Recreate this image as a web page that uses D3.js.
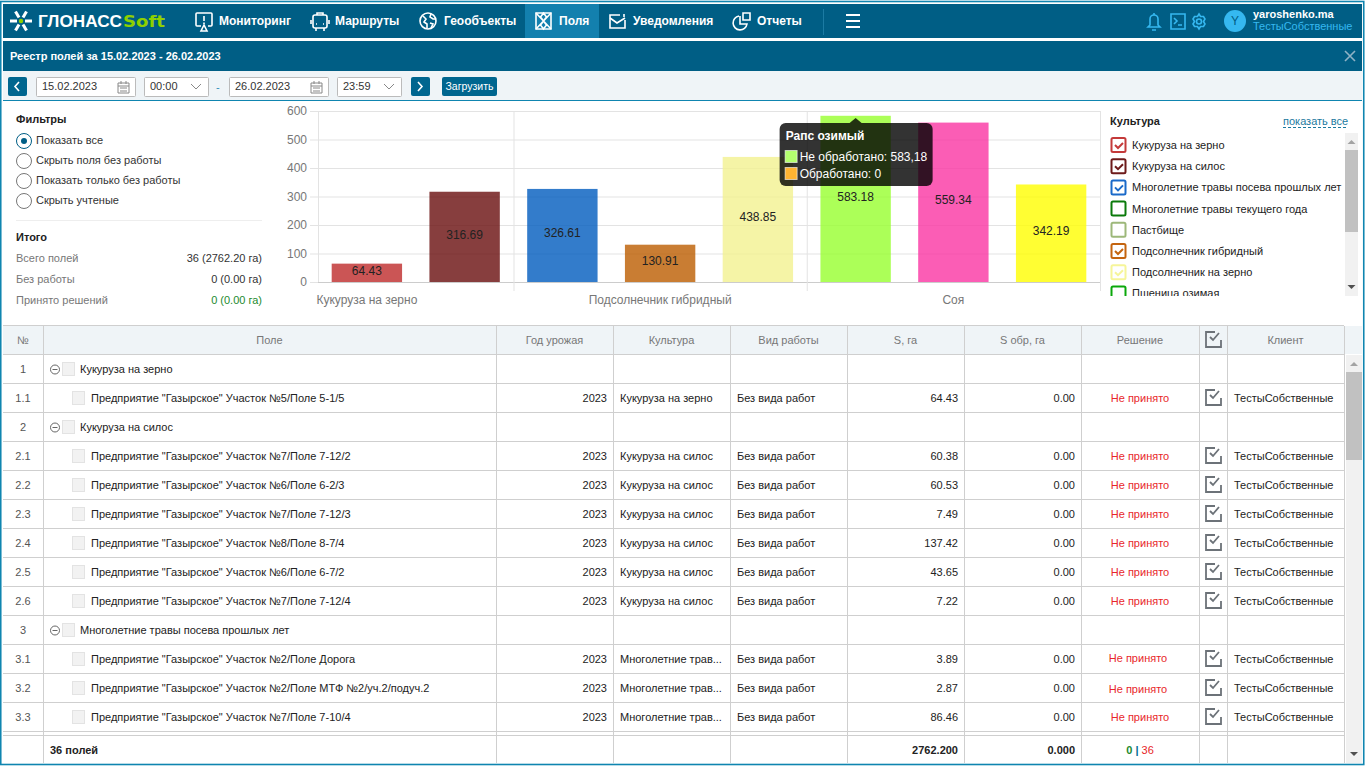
<!DOCTYPE html>
<html>
<head>
<meta charset="utf-8">
<title>Реестр полей</title>
<script src="https://cdn.jsdelivr.net/npm/d3@7"></script>
<style>
  html, body { margin: 0; padding: 0; background: #fff; overflow: hidden; }
  svg { display: block; font-family: "Liberation Sans", Arial, sans-serif; }
  text { font-size: 11px; }
</style>
</head>
<body>
<div id="app"></div>
<script>
// chart data
const barValues = [64.43, 316.69, 326.61, 130.91, 438.85, 583.18, 559.34, 342.19];
const barColors = ["#be2a2a", "#690e0e", "#005bbe", "#bb5c00", "#f3f190", "#97ff2e", "#fa34a2", "#fffe00"];
const groupLabels = ["Кукуруза на зерно", "Подсолнечник гибридный", "Соя"];
const groupSizes = [2, 3, 3];
const yTicks = [0, 100, 200, 300, 400, 500, 600];
const tooltipTitle = "Рапс озимый";
const tooltipBar = 5;

const legendNames = ["Кукуруза на зерно", "Кукуруза на силос", "Многолетние травы посева прошлых лет", "Многолетние травы текущего года", "Пастбище", "Подсолнечник гибридный", "Подсолнечник на зерно", "Пшеница озимая"];
const legendChecked = [true, true, true, false, false, true, true, false];
const legendColors = ["#c43a3a", "#6d1a1a", "#1a6ac9", "#0b7a0b", "#9db87a", "#c4640f", "#f6f59a", "#0aa80a"];

const filterNames = ["Показать все", "Скрыть поля без работы", "Показать только без работы", "Скрыть учтеные"];
const totalNames = ["Всего полей", "Без работы", "Принято решений"];
const totalValues = ["36 (2762.20 га)", "0 (0.00 га)", "0 (0.00 га)"];

const navNames = ["Мониторинг", "Маршруты", "Геообъекты", "Поля", "Уведомления", "Отчеты"];
const columnNames = ["№", "Поле", "Год урожая", "Культура", "Вид работы", "S, га", "S обр, га", "Решение", "", "Клиент"];

// культура пустая у строки группы
const rowNums = ["1", "1.1", "2", "2.1", "2.2", "2.3", "2.4", "2.5", "2.6", "3", "3.1", "3.2", "3.3"];
const rowFields = ["Кукуруза на зерно", 'Предприятие "Газырское" Участок №5/Поле 5-1/5', "Кукуруза на силос", 'Предприятие "Газырское" Участок №7/Поле 7-12/2', 'Предприятие "Газырское" Участок №6/Поле 6-2/3', 'Предприятие "Газырское" Участок №7/Поле 7-12/3', 'Предприятие "Газырское" Участок №8/Поле 8-7/4', 'Предприятие "Газырское" Участок №6/Поле 6-7/2', 'Предприятие "Газырское" Участок №7/Поле 7-12/4', "Многолетние травы посева прошлых лет", 'Предприятие "Газырское" Участок №2/Поле Дорога', 'Предприятие "Газырское" Участок №2/Поле МТФ №2/уч.2/подуч.2', 'Предприятие "Газырское" Участок №7/Поле 7-10/4'];
const rowCultures = ["", "Кукуруза на зерно", "", "Кукуруза на силос", "Кукуруза на силос", "Кукуруза на силос", "Кукуруза на силос", "Кукуруза на силос", "Кукуруза на силос", "", "Многолетние трав...", "Многолетние трав...", "Многолетние трав..."];
const rowAreas = [null, 64.43, null, 60.38, 60.53, 7.49, 137.42, 43.65, 7.22, null, 3.89, 2.87, 86.46];

const rows = rowNums.map(function(n, i) {
	return {num: n, field: rowFields[i], culture: rowCultures[i], area: rowAreas[i], group: rowAreas[i] === null};
});

const svg = d3.select("#app").append("svg")
	.attr("width", 1366)
	.attr("height", 768);

const frame = "#0f85b0";
const navBg = "#005e85";

function label(parent, x, y, str, opts) {
	opts = opts || {};
	return parent.append("text")
		.attr("x", x)
		.attr("y", y)
		.attr("text-anchor", opts.anchor || "start")
		.attr("fill", opts.fill || "#222")
		.attr("font-weight", opts.bold ? "bold" : "normal")
		.style("font-size", (opts.size || 11) + "px")
		.text(str);
}

drawShell();
drawNav();
drawToolbar();
drawFilters();
drawChart();
drawLegend();
drawTable();

function drawShell() {
	svg.append("rect").attr("width", 1366).attr("height", 768).attr("fill", "#fff");
	svg.append("rect").attr("x", 0.75).attr("y", 1.5).attr("width", 1363).attr("height", 763)
		.attr("fill", "none").attr("stroke", frame).attr("stroke-width", 1.6);
}

function strokeIcon(x, y, paths, color) {
	const g = svg.append("g")
		.attr("transform", "translate(" + x + "," + y + ")")
		.attr("fill", "none")
		.attr("stroke", color || "#fff")
		.attr("stroke-width", 1.6);
	g.selectAll("path").data(paths).enter().append("path").attr("d", function(d) { return d; });
	return g;
}

function drawNav() {
	svg.append("rect").attr("x", 3).attr("y", 4).attr("width", 1359).attr("height", 34).attr("fill", navBg);
	svg.append("rect").attr("x", 525).attr("y", 4).attr("width", 74).attr("height", 34).attr("fill", "#1380ae");

	// snowflake logo
	const flake = svg.append("g").attr("transform", "translate(21,21)").attr("stroke", "#fff").attr("stroke-width", 3);
	flake.selectAll("line").data([0, 60, 120, 180, 240, 300]).enter().append("line")
		.attr("x1", 0).attr("y1", -4).attr("x2", 0).attr("y2", -11)
		.attr("transform", function(d) { return "rotate(" + (d + 30) + ")"; });
	flake.append("circle").attr("r", 2.2).attr("fill", "#8fd000").attr("stroke", "none");
	label(svg, 38, 27, "ГЛОНАСС", {fill: "#fff", bold: true, size: 16})
		.attr("textLength", 84).attr("lengthAdjust", "spacingAndGlyphs");
	label(svg, 123, 27, "Soft", {fill: "#8fd000", bold: true, size: 16})
		.style("font-family", "'DejaVu Sans'")
		.attr("textLength", 42).attr("lengthAdjust", "spacingAndGlyphs");

	const navX = [219, 335, 444, 559, 633, 757];
	navNames.forEach(function(name, i) {
		label(svg, navX[i], 25, name, {fill: "#fff", bold: true, size: 12});
	});

	strokeIcon(195, 12, ["M2 1h14a1 1 0 0 1 1 1v11a1 1 0 0 1-1 1h-3M6 14H2a1 1 0 0 1-1-1V2a1 1 0 0 1 1-1", "M9 4v5M9 10.5v1.5", "M9 13l-3 6h6z"]);
	strokeIcon(311, 12, ["M4 3h10a2 2 0 0 1 2 2v9a2 2 0 0 1-2 2H4a2 2 0 0 1-2-2V5a2 2 0 0 1 2-2z", "M6 3V1h6v2M5 16v3M13 16v3M0 8v4M18 8v4", "M5 12h1M12 12h1"]);
	strokeIcon(419, 12, ["M9 1a8 8 0 1 0 0 16a8 8 0 1 0 0-16z", "M4 4l3 3l-2 3l3 2v4M12 2l-1 3l3 2l3 0M11 11l3 1l-2 4"]);
	strokeIcon(535, 12, ["M1 1h15v16H1z", "M1 1l15 16M16 1L1 17M8.5 1l3 4l-3 4l-3-4zM8.5 9l3 4l-3 4l-3-4z"]);
	strokeIcon(609, 13, ["M11 2H1v13h15V7", "M1 5l7 5l8-5", "M15 1v3"]);
	strokeIcon(733, 12, ["M6 4a7 7 0 1 0 8 8H7V4", "M10 1h7v7h-7z"]);

	svg.append("line").attr("x1", 823.5).attr("x2", 823.5).attr("y1", 9).attr("y2", 35).attr("stroke", "#1c7ba3");
	svg.selectAll(".burger").data([15, 21, 27]).enter().append("line")
		.attr("class", "burger")
		.attr("x1", 846).attr("x2", 860)
		.attr("y1", function(d) { return d; }).attr("y2", function(d) { return d; })
		.attr("stroke", "#fff").attr("stroke-width", 2);

	const bright = "#35b8f0";
	strokeIcon(1147, 12, ["M7 3a4 4 0 0 1 4 4v6l2 2H1l2-2V7a4 4 0 0 1 4-4z", "M5 18h4M7 1v2"], bright);
	strokeIcon(1170, 13, ["M1 1h14v15H1z", "M4 5l3 3l-3 3M8 12h4"], bright);
	const gear = strokeIcon(1191, 13, ["M8 1l1.5 2.5h3l1.5 2.5l-1.5 2.5l1.5 2.5l-1.5 2.5h-3L8 16l-1.5-2.5h-3L2 11l1.5-2.5L2 6l1.5-2.5h3z"], bright);
	gear.append("circle").attr("cx", 8).attr("cy", 8.5).attr("r", 2.5);

	svg.append("circle").attr("cx", 1235).attr("cy", 21).attr("r", 11).attr("fill", bright);
	label(svg, 1235, 25, "Y", {fill: navBg, anchor: "middle", size: 12});
	label(svg, 1253, 18, "yaroshenko.ma", {fill: "#fff", bold: true, size: 11});
	label(svg, 1253, 30, "ТестыСобственные", {fill: bright, size: 11});

	// шапка реестра
	svg.append("rect").attr("x", 3).attr("y", 41).attr("width", 1359).attr("height", 30).attr("fill", navBg);
	label(svg, 10, 60, "Реестр полей за 15.02.2023 - 26.02.2023", {fill: "#fff", bold: true, size: 11});
	strokeIcon(1345, 51, ["M0 0l10 10M10 0L0 10"], "#8fb3c6");
}

function drawToolbar() {
	svg.append("rect").attr("x", 3).attr("y", 71).attr("width", 1359).attr("height", 29).attr("fill", "#eff4f7");
	svg.append("rect").attr("x", 3).attr("y", 100).attr("width", 1359).attr("height", 1).attr("fill", frame);

	function navButton(x, path) {
		svg.append("rect").attr("x", x).attr("y", 77).attr("width", 19).attr("height", 19).attr("rx", 2).attr("fill", "#00668f");
		strokeIcon(x + 6, 82, [path]);
	}
	function input(x, w, str, arrow) {
		svg.append("rect").attr("x", x + 0.5).attr("y", 77.5).attr("width", w).attr("height", 19).attr("rx", 1)
			.attr("fill", "#fff").attr("stroke", "#bbb");
		label(svg, x + 6, 90, str, {fill: "#333", size: 11});
		if (arrow) {
			strokeIcon(x + w - 17, 84, ["M0 0l5 5l5-5"], "#888").attr("stroke-width", 1);
		} else {
			strokeIcon(x + w - 17, 81, ["M0 2h11v10H0z", "M0 5h11M3 0v3M8 0v3M2 7h7M2 10h7"], "#888").attr("stroke-width", 1);
		}
	}
	navButton(8, "M5 0L1 4.5L5 9");
	input(36, 99, "15.02.2023");
	input(144, 64, "00:00", true);
	label(svg, 216, 91, "-", {fill: "#2d8fbb"});
	input(229, 99, "26.02.2023");
	input(337, 64, "23:59", true);
	navButton(411, "M1 0l4 4.5L1 9");

	svg.append("rect").attr("x", 442).attr("y", 77).attr("width", 55).attr("height", 19).attr("rx", 2).attr("fill", "#00668f");
	label(svg, 469.5, 90, "Загрузить", {fill: "#fff", anchor: "middle", size: 10.5});
}

function drawFilters() {
	label(svg, 16, 123, "Фильтры", {bold: true, fill: "#222"});

	const items = svg.append("g").selectAll("g")
		.data(filterNames)
		.enter()
		.append("g")
		.attr("transform", function(d, i) { return "translate(0," + (141 + i * 20) + ")"; });
	items.append("circle")
		.attr("cx", 24).attr("r", 7.5).attr("fill", "#fff")
		.attr("stroke", function(d, i) { return i === 0 ? navBg : "#777"; });
	items.filter(function(d, i) { return i === 0; }).append("circle").attr("cx", 24).attr("r", 3).attr("fill", navBg);
	items.append("text")
		.attr("x", 36).attr("y", 3).attr("fill", "#333")
		.text(function(d) { return d; });

	svg.append("line").attr("x1", 16).attr("x2", 262).attr("y1", 220.5).attr("y2", 220.5).attr("stroke", "#eee");
	label(svg, 16, 241, "Итого", {bold: true, fill: "#222"});

	totalNames.forEach(function(name, i) {
		const y = 262 + i * 21;
		label(svg, 16, y, name, {fill: "#777"});
		label(svg, 262, y, totalValues[i], {anchor: "end", fill: i === 2 ? "#1d8a2e" : "#333"});
	});
}

function drawChart() {
	const x = d3.scaleBand()
		.domain(d3.range(barValues.length))
		.range([318, 1100])
		.paddingInner(0.28)
		.paddingOuter(0.14);
	const y = d3.scaleLinear()
		.domain([0, 600])
		.range([282, 111]);

	const chart = svg.append("g").attr("class", "chart");

	const axis = chart.append("g")
		.attr("transform", "translate(318,0)")
		.call(d3.axisLeft(y).tickValues(yTicks).tickSize(8).tickPadding(3));
	axis.select(".domain").remove();
	axis.selectAll("line").attr("stroke", "#e3e3e3");
	axis.selectAll("text").attr("fill", "#777").style("font-size", "12px").style("font-family", "inherit");

	chart.selectAll(".grid")
		.data(yTicks)
		.enter()
		.append("line")
		.attr("class", "grid")
		.attr("x1", 318).attr("x2", 1100)
		.attr("y1", function(d) { return y(d) + 0.5; })
		.attr("y2", function(d) { return y(d) + 0.5; })
		.attr("stroke", function(d) { return d === 0 ? "#ccc" : "#e3e3e3"; });

	// разделители и подписи групп
	let start = 0;
	const groups = groupSizes.map(function(n, i) {
		const g = {name: groupLabels[i], from: start, mid: start + Math.floor((n - 1) / 2)};
		start += n;
		return g;
	});
	const edge = function(i) { return 318 + i * x.step(); };
	chart.selectAll(".sep")
		.data(groups.map(function(g) { return g.from; }).concat(barValues.length))
		.enter()
		.append("line")
		.attr("class", "sep")
		.attr("x1", function(d) { return edge(d) + 0.5; })
		.attr("x2", function(d) { return edge(d) + 0.5; })
		.attr("y1", 111)
		.attr("y2", function(d, i) { return i === 0 ? 282 : 291; })
		.attr("stroke", "#e3e3e3");
	chart.selectAll(".group-label")
		.data(groups)
		.enter()
		.append("text")
		.attr("class", "group-label")
		.attr("x", function(g) { return x(g.mid) + x.bandwidth() / 2; })
		.attr("y", 304)
		.attr("text-anchor", "middle")
		.attr("fill", "#777")
		.style("font-size", "12px")
		.text(function(g) { return g.name; });

	chart.selectAll(".bar")
		.data(barValues)
		.enter()
		.append("rect")
		.attr("class", "bar")
		.attr("x", function(d, i) { return x(i); })
		.attr("width", x.bandwidth())
		.attr("y", function(d) { return y(d); })
		.attr("height", function(d) { return y(0) - y(d); })
		.attr("fill", function(d, i) { return barColors[i]; })
		.attr("fill-opacity", 0.8);

	chart.selectAll(".bar-label")
		.data(barValues)
		.enter()
		.append("text")
		.attr("class", "bar-label")
		.attr("x", function(d, i) { return x(i) + x.bandwidth() / 2; })
		.attr("y", function(d) { return (y(d) + y(0)) / 2 + 2; })
		.attr("text-anchor", "middle")
		.attr("fill", "#222")
		.style("font-size", "12px")
		.text(function(d) { return d; });

	// подсказка
	const tx = x(tooltipBar) + x.bandwidth() / 2;
	const tip = chart.append("g").attr("transform", "translate(" + tx + ",123)");
	tip.append("path").attr("d", "M-6 0L0 -5L6 0z").attr("fill", "#000").attr("fill-opacity", 0.8);
	tip.append("rect").attr("x", -76).attr("y", 0).attr("width", 153).attr("height", 63).attr("rx", 6)
		.attr("fill", "#000").attr("fill-opacity", 0.8);
	label(tip, -70, 17, tooltipTitle, {fill: "#fff", bold: true, size: 12});
	const tipRows = [
		{text: "Не обработано: " + String(barValues[tooltipBar]).replace(".", ","), color: "#b4ff6e"},
		{text: "Обработано: 0", color: "#ffb432"}
	];
	tipRows.forEach(function(r, i) {
		tip.append("rect").attr("x", -70.5).attr("y", 27.5 + i * 17).attr("width", 12).attr("height", 12)
			.attr("fill", r.color).attr("stroke", "#fff").attr("stroke-opacity", 0.6);
		label(tip, -56, 38 + i * 17, r.text, {fill: "#fff", size: 12});
	});
}

function drawLegend() {
	label(svg, 1110, 125, "Культура", {bold: true, fill: "#222"});
	label(svg, 1283, 125, "показать все", {fill: "#1c7aa0"});
	svg.append("line").attr("x1", 1283).attr("x2", 1348).attr("y1", 127.5).attr("y2", 127.5)
		.attr("stroke", "#1c7aa0").attr("stroke-dasharray", "3,2");

	svg.append("clipPath").attr("id", "legend-clip").append("rect")
		.attr("x", 1105).attr("y", 133).attr("width", 240).attr("height", 163);
	const list = svg.append("g").attr("clip-path", "url(#legend-clip)");

	const items = list.selectAll("g")
		.data(legendNames)
		.enter()
		.append("g")
		.attr("transform", function(d, i) { return "translate(0," + (145 + i * 21.2) + ")"; });
	items.append("rect")
		.attr("x", 1111.5).attr("y", -7).attr("width", 14).attr("height", 14).attr("rx", 1.5)
		.attr("fill", "#fff")
		.attr("stroke-width", 2)
		.attr("stroke", function(d, i) { return legendColors[i]; });
	items.filter(function(d, i) { return legendChecked[i]; }).append("path")
		.attr("d", "M1115 0l3 3l5-5")
		.attr("fill", "none")
		.attr("stroke-width", 2)
		.attr("stroke", function(d) { return legendColors[legendNames.indexOf(d)]; });
	items.append("text")
		.attr("x", 1132).attr("y", 4).attr("fill", "#222")
		.text(function(d) { return d; });

	scrollbar(1345, 133, 13, 163, 150, 82);
}

function scrollbar(x, y, w, h, thumbY, thumbH) {
	const g = svg.append("g");
	g.append("rect").attr("x", x).attr("y", y).attr("width", w).attr("height", h).attr("fill", "#f1f1f1");
	g.append("rect").attr("x", x).attr("y", thumbY).attr("width", w).attr("height", thumbH).attr("fill", "#c1c1c1");
	const c = x + w / 2;
	g.append("path").attr("d", "M" + (c - 4) + " " + (y + 11) + "h8l-4 -4z").attr("fill", "#a3a3a3");
	g.append("path").attr("d", "M" + (c - 4) + " " + (y + h - 11) + "h8l-4 4z").attr("fill", "#505050");
}

function checkIcon(parent, x, y) {
	parent.append("path")
		.attr("transform", "translate(" + x + "," + y + ")")
		.attr("d", "M10 1H1v15h15V9M5 6l3 3l6-7")
		.attr("fill", "none")
		.attr("stroke", "#6c7278")
		.attr("stroke-width", 1.8);
}

function smallBox(parent, x, y) {
	parent.append("rect")
		.attr("x", x + 0.5).attr("y", y + 0.5)
		.attr("width", 12).attr("height", 13)
		.attr("fill", "#f2f2f2").attr("stroke", "#e3e3e3");
}

function drawTable() {
	const colX = [3, 43, 496, 613, 730, 847, 964, 1081, 1199, 1227, 1344];
	const lineColor = "#cfcfcf";
	const headTop = 326, headH = 28, rowH = 29;
	const bodyTop = headTop + headH;
	const bodyEnd = bodyTop + rows.length * rowH;

	svg.append("rect").attr("x", 3).attr("y", headTop).attr("width", 1359).attr("height", headH).attr("fill", "#eff4f7");

	const table = svg.append("g").attr("class", "table");

	// шапка
	table.selectAll(".head")
		.data(columnNames)
		.enter()
		.append("text")
		.attr("class", "head")
		.attr("x", function(d, i) { return (colX[i] + colX[i + 1]) / 2; })
		.attr("y", headTop + 18)
		.attr("text-anchor", "middle")
		.attr("fill", "#777")
		.text(function(d) { return d; });
	checkIcon(table, 1205, 331);

	// строки
	const row = table.selectAll(".row")
		.data(rows)
		.enter()
		.append("g")
		.attr("class", "row")
		.attr("transform", function(d, i) { return "translate(0," + (bodyTop + i * rowH) + ")"; });

	row.append("text")
		.attr("x", 23).attr("y", 19)
		.attr("text-anchor", "middle")
		.attr("fill", "#555")
		.text(function(d) { return d.num; });

	row.append("text")
		.attr("x", function(d) { return d.group ? 80 : 91; })
		.attr("y", 19)
		.attr("fill", "#222")
		.text(function(d) { return d.field; });

	// в нижних строках решение и значок чуть сдвинуты
	const decisionShift = {"3.1": [-2, -1], "3.2": [-2, 1]};

	row.each(function(d) {
		const r = d3.select(this);
		if (d.group) {
			r.append("circle").attr("cx", 55).attr("cy", 15.5).attr("r", 4.5).attr("fill", "none").attr("stroke", "#666");
			r.append("line").attr("x1", 52.5).attr("x2", 57.5).attr("y1", 15.5).attr("y2", 15.5).attr("stroke", "#666");
			smallBox(r, 62, 8);
			return;
		}
		const shift = decisionShift[d.num] || [0, 0];
		smallBox(r, 72, 8);
		label(r, 607, 19, "2023", {anchor: "end"});
		label(r, 620, 19, d.culture);
		label(r, 737, 19, "Без вида работ");
		label(r, 958, 19, d.area.toFixed(2), {anchor: "end"});
		label(r, 1075, 19, "0.00", {anchor: "end"});
		label(r, 1140 + shift[0], 19 + shift[1], "Не принято", {anchor: "middle", fill: "#e8262a"});
		checkIcon(r, 1205, 6);
		label(r, 1234, 19, "ТестыСобственные");
	});

	// линии сетки
	const hLines = d3.range(rows.length + 1).map(function(i) { return bodyTop + i * rowH; }).concat([headTop - 1, bodyEnd + 4]);
	table.selectAll(".hline")
		.data(hLines)
		.enter()
		.append("line")
		.attr("class", "hline")
		.attr("x1", 3).attr("x2", 1344)
		.attr("y1", function(d) { return d + 0.5; })
		.attr("y2", function(d) { return d + 0.5; })
		.attr("stroke", lineColor);
	table.selectAll(".vline")
		.data(colX.slice(1))
		.enter()
		.append("line")
		.attr("class", "vline")
		.attr("x1", function(d) { return d + 0.5; })
		.attr("x2", function(d) { return d + 0.5; })
		.attr("y1", headTop)
		.attr("y2", 763)
		.attr("stroke", lineColor);

	// итоговая строка
	const fy = 754;
	label(table, 50, fy, "36 полей", {bold: true});
	label(table, 958, fy, "2762.200", {bold: true, anchor: "end"});
	label(table, 1075, fy, "0.000", {bold: true, anchor: "end"});
	const ratio = label(table, 1140, fy, "", {anchor: "middle", bold: true});
	ratio.append("tspan").attr("fill", "#1d8a2e").text("0");
	ratio.append("tspan").attr("fill", "#006b96").text(" | ");
	ratio.append("tspan").attr("fill", "#e8262a").attr("font-weight", "normal").text("36");

	scrollbar(1346, 355, 16, 408, 372, 88);
}
</script>
</body>
</html>
